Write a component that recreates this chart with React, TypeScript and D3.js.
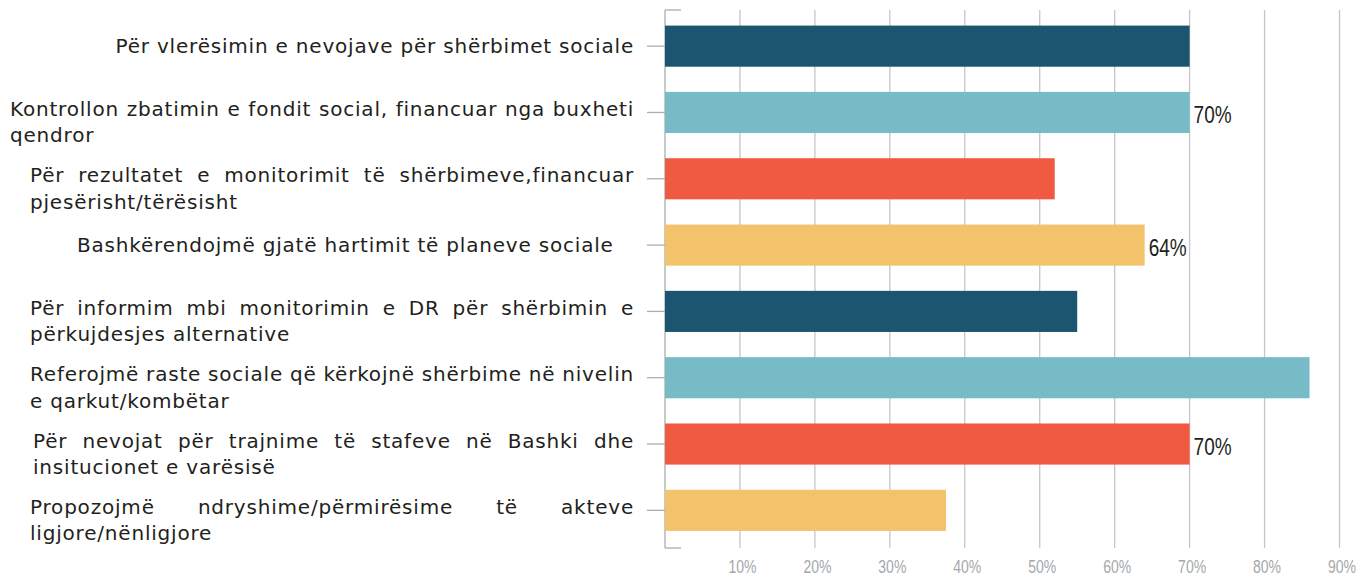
import React, { useEffect, useRef } from 'react';
import * as d3 from 'd3';

const categories: string[][] = [
  ['Për vlerësimin e nevojave për shërbimet sociale'],
  ['Kontrollon zbatimin e fondit social, financuar nga buxheti', 'qendror'],
  ['Për rezultatet e monitorimit të shërbimeve,financuar', 'pjesërisht/tërësisht'],
  ['Bashkërendojmë gjatë hartimit të planeve sociale'],
  ['Për informim mbi monitorimin e DR për shërbimin e', 'përkujdesjes alternative'],
  ['Referojmë raste sociale që kërkojnë shërbime në nivelin', 'e qarkut/kombëtar'],
  ['Për nevojat për trajnime të stafeve në Bashki dhe', 'insitucionet e varësisë'],
  ['Propozojmë ndryshime/përmirësime të akteve', 'ligjore/nënligjore'],
];
const values: number[] = [70, 70, 52, 64, 55, 86, 70, 37.5];
const valueLabels: (string | null)[] = [null, '70%', null, '64%', null, null, '70%', null];
const tickValues: number[] = [10, 20, 30, 40, 50, 60, 70, 80, 90];
const tickLabels: string[] = ['10%', '20%', '30%', '40%', '50%', '60%', '70%', '80%', '90%'];

const palette = ['#1c5570', '#77bbc6', '#f05a42', '#f3c36b'];
const labelAlign = ['right', 'justify', 'justify', 'natural', 'justify', 'justify', 'justify', 'justify'];
const labelLeft = [30, 10, 30, 77, 30, 30, 33, 30];
const labelRight = 634;

const W = 1363;
const H = 577;
const LABEL_FONT = '"DejaVu Sans", sans-serif';
const NARROW_FONT = '"Liberation Sans", Arimo, sans-serif';

export default function App() {
  const ref = useRef<SVGSVGElement | null>(null);

  useEffect(() => {
    const svg = d3.select(ref.current);
    svg.selectAll('*').remove();

    const x = d3.scaleLinear().domain([0, 90]).range([665, 1339.5]);
    const y = d3
      .scaleBand<number>()
      .domain(d3.range(categories.length))
      .range([13, 543.5])
      .paddingInner(0.38)
      .paddingOuter(0.19);

    const top = 10;
    const bottom = 548;

    svg
      .append('g')
      .selectAll('line')
      .data(tickValues)
      .join('line')
      .attr('x1', (d) => x(d))
      .attr('x2', (d) => x(d))
      .attr('y1', top)
      .attr('y2', bottom)
      .attr('stroke', '#c3c7c9')
      .attr('stroke-width', 1.3);

    const ax = svg.append('g').attr('stroke', '#a9aeb1').attr('stroke-width', 1.3);
    ax.append('line').attr('x1', x(0)).attr('x2', x(0)).attr('y1', top).attr('y2', bottom);
    ax.append('line').attr('x1', x(0)).attr('x2', x(0) + 16).attr('y1', top).attr('y2', top);
    ax.append('line').attr('x1', x(0)).attr('x2', x(0) + 16).attr('y1', bottom).attr('y2', bottom);
    ax.selectAll('line.cat')
      .data(categories)
      .join('line')
      .attr('class', 'cat')
      .attr('x1', x(0) - 18)
      .attr('x2', x(0))
      .attr('y1', (_, i) => y(i)! + y.bandwidth() / 2)
      .attr('y2', (_, i) => y(i)! + y.bandwidth() / 2);

    svg
      .append('g')
      .selectAll('rect')
      .data(values)
      .join('rect')
      .attr('x', x(0))
      .attr('y', (_, i) => y(i)!)
      .attr('width', (d) => x(d) - x(0))
      .attr('height', y.bandwidth())
      .attr('fill', (_, i) => palette[i % palette.length]);

    svg
      .append('g')
      .selectAll('text')
      .data(values.map((v, i) => ({ v, i, t: valueLabels[i] })).filter((d) => d.t))
      .join('text')
      .attr('x', (d) => x(d.v) + 4)
      .attr('y', (d) => y(d.i)! + y.bandwidth() / 2 + 10.5)
      .attr('font-family', NARROW_FONT)
      .attr('font-size', 24)
      .attr('textLength', 38)
      .attr('lengthAdjust', 'spacingAndGlyphs')
      .attr('fill', '#231f20')
      .text((d) => d.t as string);

    svg
      .append('g')
      .selectAll('text')
      .data(tickValues)
      .join('text')
      .attr('x', (d) => x(d) - 11.5)
      .attr('y', 573)
      .attr('font-family', NARROW_FONT)
      .attr('font-size', 18)
      .attr('textLength', 28)
      .attr('lengthAdjust', 'spacingAndGlyphs')
      .attr('fill', '#a3a8ab')
      .text((_, i) => tickLabels[i]);

    const lg = svg
      .append('g')
      .attr('font-family', LABEL_FONT)
      .attr('font-size', 20)
      .attr('letter-spacing', 0.8)
      .attr('fill', '#231f20');
    const measure = (s: string) => {
      const t = lg.append('text').text(s);
      const w = (t.node() as SVGTextElement).getComputedTextLength();
      t.remove();
      return w;
    };
    categories.forEach((lines, i) => {
      const cy = y(i)! + y.bandwidth() / 2;
      const single = lines.length === 1;
      lines.forEach((line, li) => {
        const base = cy + (single ? 6.5 : 3.5) + li * 26.5;
        const left = labelLeft[i];
        const align = labelAlign[i];
        if (align === 'right') {
          lg.append('text').attr('x', labelRight).attr('y', base).attr('text-anchor', 'end').text(line);
        } else if (align === 'justify' && li === 0) {
          const words = line.split(' ');
          const widths = words.map(measure);
          const total = d3.sum(widths);
          const gap = words.length > 1 ? (labelRight - left - total) / (words.length - 1) : 0;
          let cx = left;
          words.forEach((w, wi) => {
            lg.append('text').attr('x', cx).attr('y', base).text(w);
            cx += widths[wi] + gap;
          });
        } else {
          lg.append('text').attr('x', left).attr('y', base).text(line);
        }
      });
    });
  }, []);

  return (
    <svg ref={ref} width={W} height={H} style={{ position: 'absolute', left: 0, top: 0, background: '#fff' }} />
  );
}
